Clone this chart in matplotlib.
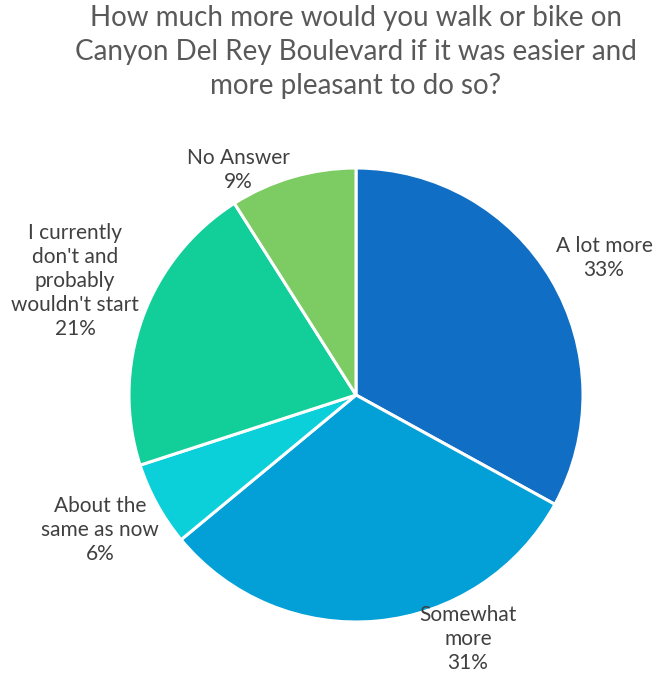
import matplotlib.pyplot as plt

# survey answers, clockwise from 12 o'clock
answers = ["A lot more", "Somewhat\nmore", "About the\nsame as now",
           "I currently\ndon't and\nprobably\nwouldn't start", "No Answer"]
shares = [33, 31, 6, 21, 9]
colors = ["#106EC4", "#02A0D7", "#0BCFD9", "#12CE98", "#7CCB63"]

# label anchor points (pixels from the top-left corner)
label_xy = [(604, 258), (468, 639), (100, 530), (75, 281), (238, 170)]

plt.rcParams["font.family"] = ["Lato", "DejaVu Sans"]

W, H = 669, 679
fig = plt.figure(figsize=(W / 100, H / 100), dpi=100)
ax = fig.add_axes([0, 0, 1, 1])

ax.pie(shares, colors=colors, startangle=90, counterclock=False,
       center=(356, H - 395), radius=227, frame=True,
       wedgeprops=dict(edgecolor="white", linewidth=2.2))
ax.set_xlim(0, W)
ax.set_ylim(0, H)
ax.set_aspect("equal")
ax.axis("off")

for name, val, (x, y) in zip(answers, shares, label_xy):
    ax.text(x, H - y, f"{name}\n{val}%", ha="center", va="center",
            fontsize=15, color="#404040", linespacing=1.25)

fig.text(356 / W, 1 - 52 / H,
         "How much more would you walk or bike on\n"
         "Canyon Del Rey Boulevard if it was easier and\n"
         "more pleasant to do so?",
         ha="center", va="center", fontsize=20, color="#595959",
         linespacing=1.38)

fig.savefig("out.png", dpi=100, facecolor="white")
